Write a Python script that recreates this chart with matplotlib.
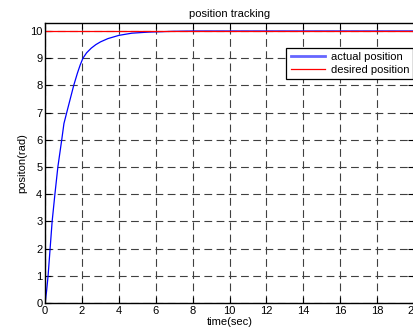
import numpy as np
import matplotlib.pyplot as plt

# values
time = [0, 0.08, 0.16, 0.27, 0.38, 0.53, 0.69, 0.9, 1.02, 1.17, 1.36,
        1.55, 1.75, 1.9, 2.05, 2.25, 2.5, 2.75, 3.0, 3.4, 4.0, 4.7, 5.6,
        7.0, 8.0, 10.0, 12.0, 14.0, 16.0, 18.0, 20.0]
actual = [0, 0.45, 1, 2, 3, 4, 5, 6, 6.6, 7, 7.5,
          8, 8.45, 8.75, 9.0, 9.2, 9.37, 9.5, 9.6, 9.72, 9.84, 9.92, 9.96,
          9.99, 10.0, 10.0, 10.0, 10.0, 10.0, 10.0, 10.0]
desired_t = [0, 20]
desired = [10, 10]

plt.rcParams['font.family'] = ['Liberation Sans', 'DejaVu Sans']
plt.rcParams['font.size'] = 8

fig = plt.figure(figsize=(4.14, 3.36), dpi=100)
ax = fig.add_axes([0.109, 0.098, 0.891, 0.834])

ax.plot(time, actual, color='blue', lw=0.9, label='actual position')
ax.plot(desired_t, desired, color='red', lw=0.9, label='desired position')

ax.set_xlim(0, 20)
ax.set_ylim(0, 10.3)
ax.set_xticks(np.arange(0, 21, 2))
ax.set_yticks(np.arange(0, 11, 1))

# matlab style dashed grid
ax.grid(True, color='0.25', lw=0.8, linestyle=(0, (7, 4)))
ax.tick_params(direction='in', top=True, right=True, length=4, width=0.8,
               pad=2, labelsize=8)
for s in ax.spines.values():
    s.set_linewidth(1.0)

ax.set_title('position tracking', fontsize=8, pad=4)
ax.set_xlabel('time(sec)', fontsize=8, labelpad=1)
ax.set_ylabel('positon(rad)', fontsize=8, labelpad=2)

leg = ax.legend(loc='upper right', bbox_to_anchor=(0.998, 0.91),
                borderaxespad=0, fancybox=False, framealpha=1,
                edgecolor='black', fontsize=8, handlelength=3.1,
                handletextpad=0.5, borderpad=0.38, labelspacing=0.25)
leg.get_frame().set_linewidth(0.9)
leg.get_lines()[0].set_linewidth(2)
leg.get_lines()[0].set_alpha(0.6)

fig.savefig('out.png', dpi=100)
